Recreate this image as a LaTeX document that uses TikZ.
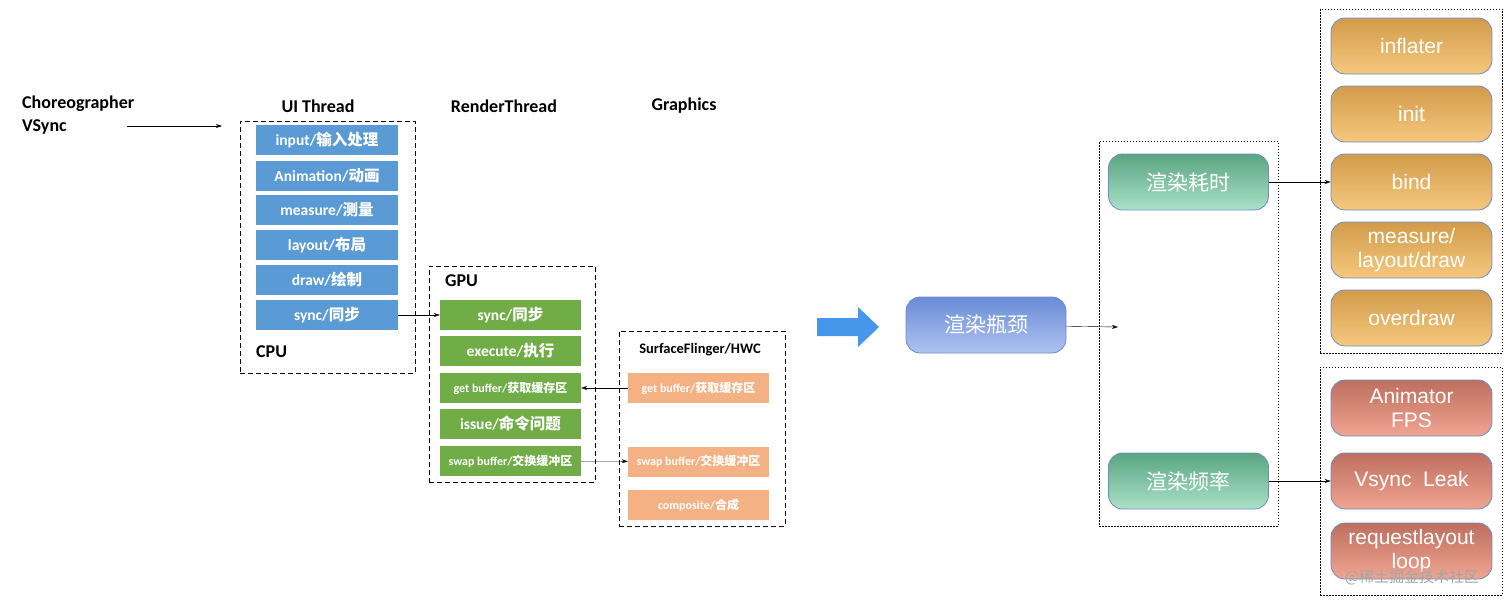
\documentclass[tikz,border=0pt]{standalone}
\usepackage{fontspec}
\setmainfont{Carlito}
\newfontfamily\cjk{Noto Sans CJK SC}
\newfontfamily\ars{Liberation Sans}
\usetikzlibrary{arrows.meta}
\definecolor{cblue}{RGB}{91,155,213}
\definecolor{cgreen}{RGB}{112,173,71}
\definecolor{corange}{RGB}{244,177,131}
\definecolor{cbord}{RGB}{110,140,200}
\definecolor{grT}{RGB}{90,165,130}\definecolor{grB}{RGB}{170,225,200}
\definecolor{blT}{RGB}{105,140,215}\definecolor{blB}{RGB}{175,195,240}
\definecolor{ogT}{RGB}{210,155,75}\definecolor{ogB}{RGB}{245,200,125}
\definecolor{rdT}{RGB}{190,110,95}\definecolor{rdB}{RGB}{240,165,145}
\definecolor{bigarr}{RGB}{70,150,235}
\begin{document}
\begin{tikzpicture}[x=1pt,y=-1pt,
  lbl/.style={font=\bfseries\fontsize{18}{21}\selectfont,inner sep=0pt},
  box/.style={minimum width=142pt,minimum height=30pt,inner sep=0pt,text=white,font=\bfseries\fontsize{15.5}{17}\selectfont},
  bluebox/.style={box,fill=cblue},
  greenbox/.style={box,fill=cgreen},
  orbox/.style={box,minimum width=141pt,fill=corange},
  smallt/.style={font=\bfseries\fontsize{12}{14}\selectfont},
  dashbox/.style={draw,thick,dash pattern=on 5pt off 3pt},
  dotbox/.style={draw,dash pattern=on 1.5pt off 1.5pt},
  rnd/.style={rounded corners=14pt,draw=cbord,thick,minimum width=160pt,minimum height=56pt,text=white,font=\ars\fontsize{21}{24}\selectfont,align=center,inner sep=0pt},
  gr/.style={rnd,top color=grT,bottom color=grB},
  bl/.style={rnd,top color=blT,bottom color=blB},
  og/.style={rnd,top color=ogT,bottom color=ogB},
  rd/.style={rnd,top color=rdT,bottom color=rdB},
  arr/.style={-{Stealth[length=6pt,width=4pt]}}
]
\useasboundingbox (0,0) rectangle (1512,605);
% labels
\node[lbl,anchor=west,align=left] (chor) at (22,115) {Choreographer\\[2pt]VSync};
\node[lbl] (uit) at (318,106) {UI Thread};
\node[lbl] (rt) at (504,106) {RenderThread};
\node[lbl] (gfx) at (684,106) {Graphics};
\coordinate (c1) at (127,126);
\coordinate (c2) at (222,126);
\draw[thick,arr] (c1) -- (c2);
% UI box
\node[dashbox,minimum width=175pt,minimum height=252pt] (uibox) at (327.5,247) {};
\node[bluebox] (b1) at (327,140) {input/{\cjk 输入处理}};
\node[bluebox] (b2) at (327,176) {Animation/{\cjk 动画}};
\node[bluebox] (b3) at (327,210) {measure/{\cjk 测量}};
\node[bluebox] (b4) at (327,245) {layout/{\cjk 布局}};
\node[bluebox] (b5) at (327,280) {draw/{\cjk 绘制}};
\node[bluebox] (b6) at (327,315) {sync/{\cjk 同步}};
\node[lbl,anchor=west] (cpu) at (256,352) {CPU};
% GPU box
\node[dashbox,minimum width=166pt,minimum height=216pt] (gpubox) at (512,374) {};
\node[lbl,anchor=west] (gpu) at (445,281) {GPU};
\node[greenbox,minimum width=141pt] (g1) at (510.5,315) {sync/{\cjk 同步}};
\node[greenbox,minimum width=141pt] (g2) at (510.5,351) {execute/{\cjk 执行}};
\node[greenbox,minimum width=141pt,smallt] (g3) at (510.5,388) {get buffer/{\cjk 获取缓存区}};
\node[greenbox,minimum width=141pt] (g4) at (510.5,424) {issue/{\cjk 命令问题}};
\node[greenbox,minimum width=141pt,smallt] (g5) at (510.5,461) {swap buffer/{\cjk 交换缓冲区}};
% SF box
\node[dashbox,minimum width=166pt,minimum height=195pt] (sfbox) at (702,428.5) {};
\node[font=\bfseries\fontsize{14.5}{16}\selectfont] (sf) at (700,350) {SurfaceFlinger/HWC};
\node[orbox,smallt] (o1) at (698.5,388) {get buffer/{\cjk 获取缓存区}};
\node[orbox,smallt] (o2) at (698.5,461.5) {swap buffer/{\cjk 交换缓冲区}};
\node[orbox,smallt] (o3) at (698.5,505) {composite/{\cjk 合成}};
\draw[arr] (b6) -- (g1);
\draw[arr] (o1) -- (g3);
\draw[arr] (g5) -- (o2);
% big arrow
\fill[bigarr] (817,318) -- (858,318) -- (858,307) -- (879,327) -- (858,347) -- (858,336) -- (817,336) -- cycle;
% right
\node[bl] (bott) at (986,325) {{\cjk 渲染瓶颈}};
\node[dotbox,minimum width=179pt,minimum height=385pt] (midbox) at (1188.5,333.5) {};
\coordinate (mid) at (1118,327);
\draw[arr] (bott) -- (mid);
\node[gr] (t1) at (1188.5,182) {{\cjk 渲染耗时}};
\node[gr] (t2) at (1188.5,481) {{\cjk 渲染频率}};
\node[dotbox,minimum width=182pt,minimum height=344pt] (topbox) at (1411,181) {};
\node[dotbox,minimum width=182pt,minimum height=228pt] (botbox) at (1411,481) {};
\node[og,minimum width=161pt] (r1) at (1411.5,46) {inflater};
\node[og,minimum width=161pt] (r2) at (1411.5,114) {init};
\node[og,minimum width=161pt] (r3) at (1411.5,182) {bind};
\node[og,minimum width=161pt] (r4) at (1411.5,250) {measure/\\layout/draw};
\node[og,minimum width=161pt] (r5) at (1411.5,318) {overdraw};
\node[rd,minimum width=161pt] (s1) at (1411.5,408) {Animator\\FPS};
\node[rd,minimum width=161pt] (s2) at (1411.5,481) {Vsync~~Leak};
\node[rd,minimum width=161pt] (s3) at (1411.5,551) {requestlayout\\loop};
\draw[arr] (t1) -- (r3);
\draw[arr] (t2) -- (s2);
\node[text=gray!70,font=\cjk\fontsize{15}{17}\selectfont] (wm) at (1412,577) {@稀土掘金技术社区};
\end{tikzpicture}
\end{document}
